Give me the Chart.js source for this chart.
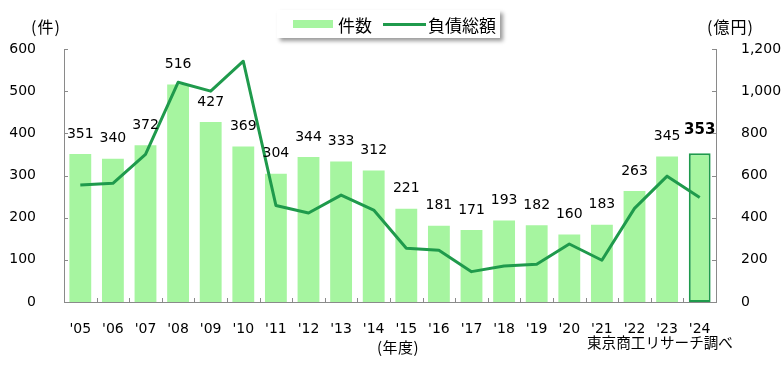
<!DOCTYPE html>
<html lang="ja">
<head>
<meta charset="utf-8">
<script src="https://cdn.jsdelivr.net/npm/chart.js@4.4.1/dist/chart.umd.min.js"></script>
<style>
  body { margin: 0; background: #fff; font-family: "Noto Sans CJK JP", sans-serif; }
  #wrap { position: relative; width: 783px; height: 370px; }
  #chart { position: absolute; left: 0; top: 0; }
  .note { position: absolute; color: #000; white-space: nowrap; line-height: 1; font-size: 15px; }
  #legend {
    position: absolute; left: 277px; top: 10px; width: 223px; height: 28px;
    background: #fff; box-shadow: 3px 3px 4px rgba(0,0,0,0.4);
    display: flex; align-items: center; font-size: 17px; line-height: 1;
  }
  #legend .sw { display: inline-block; }
</style>
</head>
<body>
<div id="wrap">
  <canvas id="chart" width="783" height="370"></canvas>
  <div id="legend"></div>
  <div class="note" style="left:31px; top:18px; font-size:16px; letter-spacing:1px;">(件)</div>
  <div class="note" style="left:707px; top:18px; font-size:16px; letter-spacing:1px;">(億円)</div>
  <div class="note" style="left:377px; top:339px; letter-spacing:0.5px;">(年度)</div>
  <div class="note" style="left:587px; top:335px; font-size:14.6px;">東京商工リサーチ調べ</div>
</div>
<script>
// データ
const categories = ["'05", "'06", "'07", "'08", "'09", "'10", "'11", "'12", "'13", "'14",
                    "'15", "'16", "'17", "'18", "'19", "'20", "'21", "'22", "'23", "'24"];
const counts = [351, 340, 372, 516, 427, 369, 304, 344, 333, 312,
                221, 181, 171, 193, 182, 160, 183, 263, 345, 353];
const debt = [555, 563, 700, 1042, 1000, 1142, 458, 422, 507, 436,
              255, 246, 144, 171, 179, 275, 198, 444, 597, 496];
const leftTicks = [0, 100, 200, 300, 400, 500, 600];
const rightTicks = [0, 200, 400, 600, 800, 1000, 1200];
const seriesNames = ['件数', '負債総額'];

const barColor = '#a6f5a0';
const lineColor = '#1f9a4c';
const axisColor = '#8a8a8a';
const numFont = '"DejaVu Sans", sans-serif';

// 凡例 (HTML)
const legend = document.getElementById('legend');
legend.innerHTML =
  '<span class="sw" style="margin-left:16px;width:40px;height:8px;background:' + barColor + '"></span>' +
  '<span style="margin-left:5px">' + seriesNames[0] + '</span>' +
  '<span class="sw" style="margin-left:11px;width:43px;height:3px;background:' + lineColor + '"></span>' +
  '<span style="margin-left:2px">' + seriesNames[1] + '</span>';

// 棒の上に件数を表示
const barLabels = {
  id: 'barLabels',
  afterDatasetsDraw(chart) {
    const idx = chart.data.datasets.findIndex(d => d.type === 'bar');
    const meta = chart.getDatasetMeta(idx);
    const ctx = chart.ctx;
    ctx.save();
    ctx.textAlign = 'center';
    ctx.textBaseline = 'middle';
    ctx.fillStyle = '#000';
    meta.data.forEach((bar, i) => {
      const last = i === counts.length - 1;
      ctx.font = (last ? 'bold 15px ' : '14px ') + numFont;
      ctx.fillText(counts[i], bar.x, bar.y - (last ? 23 : 20));
    });
    ctx.restore();
  }
};

// 内向きの目盛り
const innerTicks = {
  id: 'innerTicks',
  afterDraw(chart) {
    const { ctx, chartArea: a, scales } = chart;
    ctx.save();
    ctx.strokeStyle = axisColor;
    ctx.lineWidth = 1;
    ctx.beginPath();
    leftTicks.forEach(v => {
      const y = Math.round(scales.y.getPixelForValue(v)) + 0.5;
      ctx.moveTo(a.left, y); ctx.lineTo(a.left + 4, y);
    });
    rightTicks.forEach(v => {
      const y = Math.round(scales.y1.getPixelForValue(v)) + 0.5;
      ctx.moveTo(a.right, y); ctx.lineTo(a.right - 4, y);
    });
    for (let i = 1; i < categories.length; i++) {
      const x = Math.round((scales.x.getPixelForTick(i - 1) + scales.x.getPixelForTick(i)) / 2) + 0.5;
      ctx.moveTo(x, a.bottom); ctx.lineTo(x, a.bottom - 4);
    }
    ctx.stroke();
    ctx.restore();
  }
};

const ctx = document.getElementById('chart').getContext('2d');
new Chart(ctx, {
  data: {
    labels: categories,
    datasets: [
      {
        type: 'bar',
        label: seriesNames[0],
        data: counts,
        yAxisID: 'y',
        order: 1,
        backgroundColor: barColor,
        borderColor: counts.map((v, i) => i === counts.length - 1 ? lineColor : 'rgba(0,0,0,0)'),
        borderWidth: counts.map((v, i) => i === counts.length - 1 ? 2 : 0),
        borderSkipped: false,
        categoryPercentage: 1,
        barPercentage: 0.67
      },
      {
        type: 'line',
        label: seriesNames[1],
        data: debt,
        yAxisID: 'y1',
        order: 0,
        borderColor: lineColor,
        borderWidth: 3,
        borderJoinStyle: 'round',
        pointRadius: 0,
        tension: 0,
        fill: false
      }
    ]
  },
  options: {
    responsive: false,
    animation: false,
    layout: { padding: { top: 49, left: 0, right: 0, bottom: 0 } },
    plugins: { legend: { display: false }, tooltip: { enabled: false } },
    scales: {
      x: {
        grid: { display: false },
        border: { color: axisColor },
        ticks: { color: '#000', font: { family: numFont, size: 14 }, padding: 11, maxRotation: 0, autoSkip: false },
        afterFit(s) { s.height = 68; }
      },
      y: {
        position: 'left',
        min: 0, max: 600,
        grid: { display: false },
        border: { color: axisColor },
        afterBuildTicks(s) { s.ticks = leftTicks.map(v => ({ value: v })); },
        ticks: { color: '#000', font: { family: numFont, size: 14 }, padding: 20 },
        afterFit(s) { s.width = 64; }
      },
      y1: {
        position: 'right',
        min: 0, max: 1200,
        grid: { display: false },
        border: { color: axisColor },
        afterBuildTicks(s) { s.ticks = rightTicks.map(v => ({ value: v })); },
        ticks: {
          color: '#000', font: { family: numFont, size: 14 }, padding: 17,
          callback: v => v.toLocaleString('en-US')
        },
        afterFit(s) { s.width = 67; }
      }
    }
  },
  plugins: [barLabels, innerTicks]
});
</script>
</body>
</html>
